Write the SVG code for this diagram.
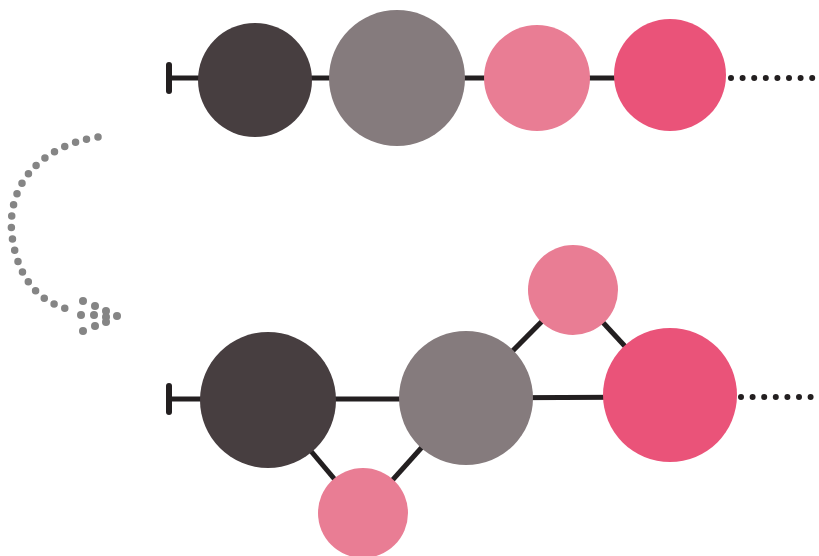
<svg xmlns="http://www.w3.org/2000/svg" width="819" height="556" viewBox="0 0 819 556">
<style>
.ln{stroke:#231f20;stroke-width:5;fill:none}
.cap{stroke:#231f20;stroke-width:6;stroke-linecap:round;fill:none}
.dot{stroke:#231f20;stroke-width:6;stroke-linecap:round;stroke-dasharray:0 11.6;fill:none}
.arc{stroke:#858585;stroke-width:7.5;stroke-linecap:round;stroke-dasharray:0 11.5;fill:none}
.ah{fill:#858585}
.dark{fill:#473e40}.grey{fill:#857b7d}.lpink{fill:#e97d94}.pink{fill:#ea5379}
</style>
<rect width="819" height="556" fill="#ffffff"/>
<g id="connectors">
<line class="cap" x1="169" y1="65" x2="169" y2="91"/>
<line class="ln" x1="169" y1="78" x2="670" y2="78"/>
<line class="dot" x1="731" y1="78" x2="819" y2="78"/>
<line class="cap" x1="169" y1="386" x2="169" y2="412"/>
<line class="ln" x1="169" y1="399" x2="466" y2="399"/>
<line class="ln" x1="466" y1="398" x2="670" y2="397"/>
<line class="ln" x1="268" y1="400" x2="363" y2="513"/>
<line class="ln" x1="466" y1="398" x2="363" y2="513"/>
<line class="ln" x1="466" y1="398" x2="573" y2="290"/>
<line class="ln" x1="573" y1="290" x2="670" y2="395"/>
<line class="dot" x1="741" y1="397" x2="819" y2="397"/>
<path class="arc" d="M98,137 C40,146 6,185 12,236 C18,280 40,303 71,310"/>
<g class="ah">
<circle cx="83" cy="301" r="4"/><circle cx="95" cy="306" r="4"/><circle cx="106" cy="311" r="4"/><circle cx="117" cy="316" r="4"/>
<circle cx="81" cy="315" r="4"/><circle cx="94" cy="315" r="4"/><circle cx="106" cy="317" r="4"/><circle cx="106" cy="322" r="4"/>
<circle cx="83" cy="331" r="4"/><circle cx="95" cy="326" r="4"/>
</g>
</g>
<g id="n1"><circle class="dark" cx="255" cy="80" r="57"/></g>
<g id="n2"><circle class="grey" cx="397" cy="78" r="68"/></g>
<g id="n3"><circle class="lpink" cx="537" cy="78" r="53"/></g>
<g id="n4"><circle class="pink" cx="670" cy="75" r="56"/></g>
<g id="n5"><circle class="dark" cx="268" cy="400" r="68"/></g>
<g id="n6"><circle class="grey" cx="466" cy="398" r="67"/></g>
<g id="n7"><circle class="lpink" cx="363" cy="513" r="45"/></g>
<g id="n8"><circle class="lpink" cx="573" cy="290" r="45"/></g>
<g id="n9"><circle class="pink" cx="670" cy="395" r="67"/></g>
</svg>
